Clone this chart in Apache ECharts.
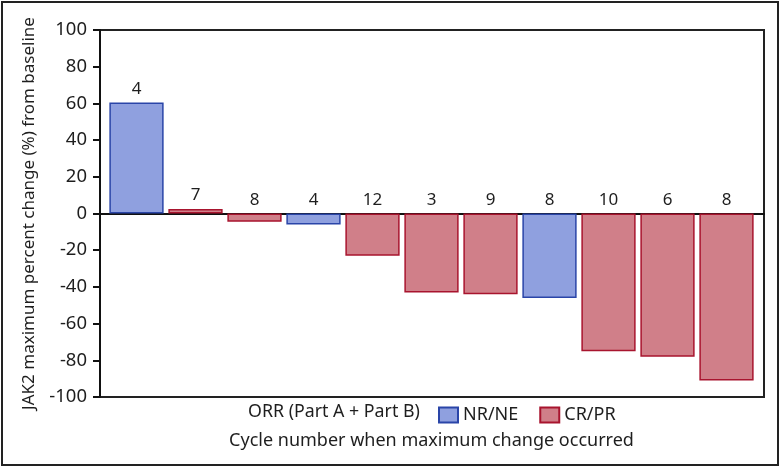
<!DOCTYPE html>
<html>
<head>
<meta charset="utf-8">
<script src="https://cdn.jsdelivr.net/npm/echarts@6/dist/echarts.min.js"></script>
<style>html,body{margin:0;padding:0;background:#fff}#c{width:782px;height:467px}</style>
</head>
<body>
<div id="c"></div>
<script>
var patients = ['P1','P2','P3','P4','P5','P6','P7','P8','P9','P10','P11'];
var changes = [60.5, 2.5, -4.5, -6, -23, -43, -44, -46, -75, -78, -91];
var cycles = ['4','7','8','4','12','3','9','8','10','6','8'];
var response = ['NR/NE','CR/PR','CR/PR','NR/NE','CR/PR','CR/PR','CR/PR','NR/NE','CR/PR','CR/PR','CR/PR'];
var yTicks = {min: -100, max: 100, interval: 20};

var FONT = 'Noto Sans';
var TXT = '#1e1e1e';
function seriesFor(name, fill, border) {
  return {
    name: name,
    type: 'bar',
    xAxisIndex: 1, yAxisIndex: 1,
    barWidth: '92%',
    barGap: '-100%',
    data: changes.map(function (v, i) {
      return response[i] === name ? {value: v, cycle: cycles[i]} : '-';
    }),
    itemStyle: {color: fill, borderColor: border, borderWidth: 1.5},
    label: {
      show: true, position: 'top', distance: 5,
      fontFamily: FONT, fontSize: 17, color: TXT,
      formatter: function (p) { return p.data.cycle; }
    }
  };
}

var chart = echarts.init(document.getElementById('c'));
chart.setOption({
  animation: false,
  title: {
    text: 'ORR (Part A + Part B)', left: 248, top: 403, padding: 0,
    textStyle: {fontFamily: FONT, fontSize: 17.8, fontWeight: 'normal', color: TXT}
  },
  legend: {
    data: ['NR/NE', 'CR/PR'], left: 438, top: 406, padding: 0,
    itemWidth: 19, itemHeight: 15, itemGap: 21,
    textStyle: {fontFamily: FONT, fontSize: 18, color: TXT},
    icon: 'rect'
  },
  graphic: [{
    type: 'rect', shape: {x: 2, y: 2, width: 776, height: 463},
    style: {fill: 'none', stroke: '#222', lineWidth: 2}, silent: true
  }],
  grid: [
    {left: 100, right: 18, top: 30, bottom: 70, show: true, borderColor: '#222', borderWidth: 2},
    {left: 107, right: 26, top: 30, bottom: 70}
  ],
  xAxis: [{
    gridIndex: 0, type: 'category', data: [''],
    axisLine: {onZero: true, lineStyle: {color: '#111', width: 2}},
    axisTick: {show: false}, axisLabel: {show: false}, splitLine: {show: false}
  }, {
    gridIndex: 1, type: 'category', data: patients,
    name: 'Cycle number when maximum change occurred',
    nameLocation: 'middle', nameGap: 35,
    nameTextStyle: {fontFamily: FONT, fontSize: 18, color: TXT},
    axisLine: {show: false, onZero: false},
    axisTick: {show: false}, axisLabel: {show: false}, splitLine: {show: false}
  }],
  yAxis: [{
    gridIndex: 0, type: 'value', min: yTicks.min, max: yTicks.max, interval: yTicks.interval,
    name: 'JAK2 maximum percent change (%) from baseline',
    nameLocation: 'middle', nameGap: 62,
    nameTextStyle: {fontFamily: FONT, fontSize: 17, color: TXT},
    axisLine: {show: true, lineStyle: {color: '#111', width: 2}},
    axisTick: {show: true, length: 7, lineStyle: {color: '#111', width: 2}},
    axisLabel: {fontFamily: FONT, fontSize: 18.5, color: TXT, margin: 13},
    splitLine: {show: false}
  }, {
    gridIndex: 1, type: 'value', min: yTicks.min, max: yTicks.max, interval: yTicks.interval,
    show: false
  }],
  series: [
    seriesFor('NR/NE', '#8FA0DF', '#2A45A8'),
    seriesFor('CR/PR', '#D07F89', '#A8142E')
  ]
});
</script>
</body>
</html>
